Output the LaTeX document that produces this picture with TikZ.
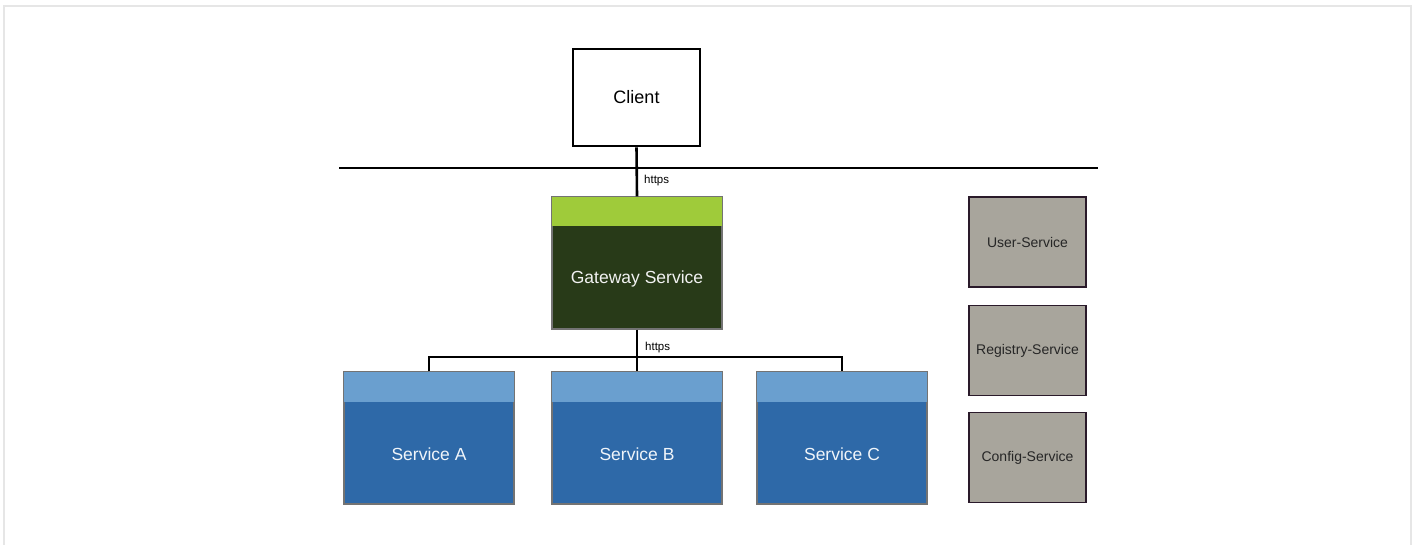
\documentclass[tikz,border=0pt]{standalone}
\usepackage{fontspec}
\setmainfont{Liberation Sans}
\definecolor{gwdark}{HTML}{283A18}
\definecolor{gwgreen}{HTML}{9FCB3A}
\definecolor{svblue}{HTML}{2E69A8}
\definecolor{svlight}{HTML}{6A9FCF}
\definecolor{gybox}{HTML}{A8A59C}
\definecolor{gyborder}{HTML}{2A1A2A}
\definecolor{frame}{HTML}{E6E6E6}
\begin{document}
\begin{tikzpicture}[x=1pt,y=-1pt,
  conn/.style={line width=2.6pt,black},
  lbl/.style={font=\fontsize{11.5}{13}\selectfont,anchor=west,inner sep=0pt},
  sidebox/.style={draw=gyborder,line width=1.8pt,fill=gybox,minimum width=117pt,minimum height=90pt,font=\fontsize{14}{16}\selectfont,text=black!85,inner sep=0pt}]
\useasboundingbox (0,0) rectangle (1416,544);
\fill[white] (0,0) rectangle (1416,544);
\draw[frame,line width=2pt] (4,546) -- (4,6) -- (1411,6) -- (1411,546);
% client
\node[draw,line width=2.6pt,minimum width=127pt,minimum height=97pt,font=\fontsize{18}{20}\selectfont,inner sep=0pt] (client) at (636.5,97.5) {Client};
\coordinate (busL) at (339,168);
\coordinate (busR) at (1098,168);
\draw[conn] (busL) -- (busR);
% gateway
\node[draw=black!55,line width=1.4pt,fill=gwdark,minimum width=170pt,minimum height=132pt,inner sep=0pt] (gw) at (637,263) {};
\fill[gwgreen] ([xshift=0.7pt,yshift=-0.7pt]gw.north west) rectangle ([xshift=-0.7pt]gw.north east |- 0,226);
\draw[black!55,line width=1.4pt] (gw.north west) rectangle (gw.south east);
\node[text=white!90!gray,font=\fontsize{17.5}{20}\selectfont] (gwt) at (637,278.5) {Gateway Service};
\draw[conn] (client.south) -- (gw.north);
\node[lbl] (h1) at (644,181) {https};
% services
\foreach \n/\cx/\t in {sa/429/Service A,sb/637/Service B,sc/842/Service C}{
  \node[draw=black!55,line width=1.4pt,fill=svblue,minimum width=170pt,minimum height=132pt,inner sep=0pt] (\n) at (\cx,438) {};
  \fill[svlight] ([xshift=0.7pt,yshift=-0.7pt]\n.north west) rectangle ([xshift=-0.7pt]\n.north east |- 0,402);
  \draw[black!55,line width=1.4pt] (\n.north west) rectangle (\n.south east);
  \node[text=white!90!svlight,font=\fontsize{17.5}{20}\selectfont] at (\cx,454) {\t};
}
\coordinate (j) at (637,357);
\draw[conn] (gw.south) -- (j);
\draw[conn] (sa.north) -- (sa.north |- j) -- (sc.north |- j) -- (sc.north);
\draw[conn] (j) -- (sb.north);
\node[lbl] (h2) at (645,348) {https};
% side boxes
\node[sidebox] (us) at (1027.5,242) {User-Service};
\node[sidebox] (rs) at (1027.5,350.5) {Registry-Service};
\node[sidebox] (cs) at (1027.5,457.5) {Config-Service};
\end{tikzpicture}
\end{document}
